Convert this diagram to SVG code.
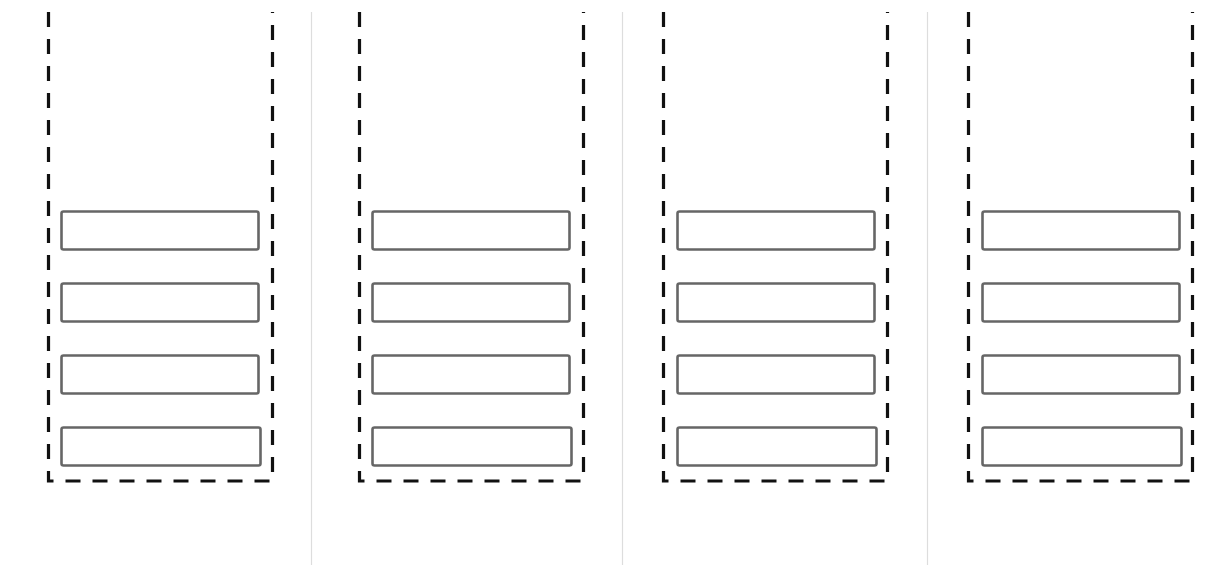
<svg xmlns="http://www.w3.org/2000/svg" width="1231" height="565" viewBox="0 0 1231 565">
<style>
.bin{fill:none;stroke:#111;stroke-width:3.2;stroke-dasharray:15 12}
.slot{fill:#fff;stroke:#666;stroke-width:2.6}
.sep{stroke:#ddd;stroke-width:1.2}
</style>
<rect width="1231" height="565" fill="#fff"/>
<g id="separators">
<line class="sep" x1="311.5" y1="12" x2="311.5" y2="565"/>
<line class="sep" x1="622.5" y1="12" x2="622.5" y2="565"/>
<line class="sep" x1="927.5" y1="12" x2="927.5" y2="565"/>
</g>
<g id="stack1">
<path class="bin" d="M48.5,12 V481 H272.5 V12"/>
<rect class="slot" x="61.5" y="211.5" width="197" height="38" rx="2"/>
<rect class="slot" x="61.5" y="283.5" width="197" height="38" rx="2"/>
<rect class="slot" x="61.5" y="355.5" width="197" height="38" rx="2"/>
<rect class="slot" x="61.5" y="427.5" width="199" height="38" rx="2"/>
</g>
<g id="stack2">
<path class="bin" d="M359.5,12 V481 H583.5 V12"/>
<rect class="slot" x="372.5" y="211.5" width="197" height="38" rx="2"/>
<rect class="slot" x="372.5" y="283.5" width="197" height="38" rx="2"/>
<rect class="slot" x="372.5" y="355.5" width="197" height="38" rx="2"/>
<rect class="slot" x="372.5" y="427.5" width="199" height="38" rx="2"/>
</g>
<g id="stack3">
<path class="bin" d="M663.5,12 V481 H887.5 V12"/>
<rect class="slot" x="677.5" y="211.5" width="197" height="38" rx="2"/>
<rect class="slot" x="677.5" y="283.5" width="197" height="38" rx="2"/>
<rect class="slot" x="677.5" y="355.5" width="197" height="38" rx="2"/>
<rect class="slot" x="677.5" y="427.5" width="199" height="38" rx="2"/>
</g>
<g id="stack4">
<path class="bin" d="M968.5,12 V481 H1192.5 V12"/>
<rect class="slot" x="982.5" y="211.5" width="197" height="38" rx="2"/>
<rect class="slot" x="982.5" y="283.5" width="197" height="38" rx="2"/>
<rect class="slot" x="982.5" y="355.5" width="197" height="38" rx="2"/>
<rect class="slot" x="982.5" y="427.5" width="199" height="38" rx="2"/>
</g>
</svg>
